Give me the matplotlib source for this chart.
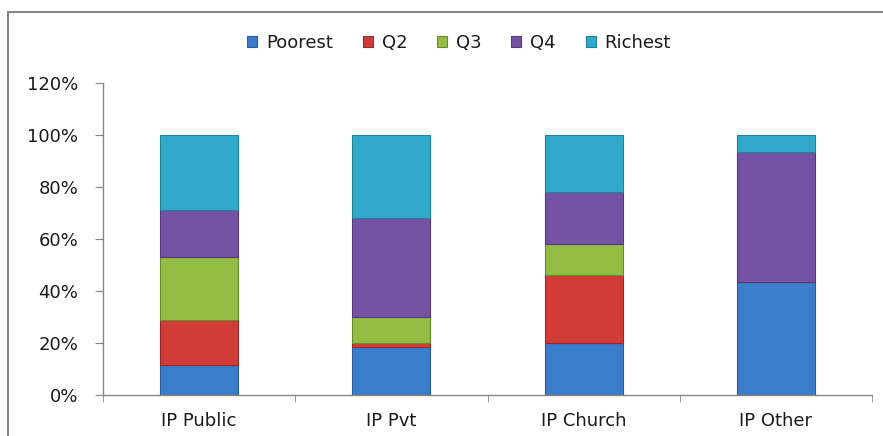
import matplotlib
matplotlib.use("Agg")
import matplotlib.pyplot as plt
from matplotlib.patches import Rectangle
from matplotlib.ticker import FixedLocator, PercentFormatter
import numpy as np

plt.rcParams["font.family"] = ["DejaVu Sans"]

categories = ["IP Public", "IP Pvt", "IP Church", "IP Other"]
series     = ["Poorest", "Q2", "Q3", "Q4", "Richest"]
poorest = [11.5, 18.5, 20.0, 43.5]
q2      = [17.5, 1.5, 26.0, 0.0]
q3      = [24.0, 10.0, 12.0, 0.0]
q4      = [18.0, 38.0, 20.0, 50.0]
richest = [29.0, 32.0, 22.0, 6.5]
colors  = ["#3B7CCB", "#D13B38", "#93BD45", "#7652A5", "#31A9CB"]
edges   = ["#2A5C98", "#962A28", "#6A8A30", "#553A7A", "#22809A"]

values = [poorest, q2, q3, q4, richest]

fig = plt.figure(figsize=(8.83, 4.36), dpi=100)
ax = fig.add_axes([103 / 883, 1 - 395 / 436, 769 / 883, 312 / 436])

x = np.arange(len(categories))
bottom = np.zeros(len(categories))
for name, vals, c, ec in zip(series, values, colors, edges):
    ax.bar(x, vals, 0.405, bottom=bottom, color=c, edgecolor=ec,
           linewidth=0.8, label=name)
    bottom += np.array(vals)

ax.set_xlim(-0.5, len(categories) - 0.5)
ax.set_ylim(0, 120)
ax.set_yticks(range(0, 121, 20))
ax.yaxis.set_major_formatter(PercentFormatter(decimals=0))
ax.set_xticks(x)
ax.set_xticklabels(categories)
ax.xaxis.set_minor_locator(FixedLocator(np.arange(-0.5, len(categories), 1.0)))
ax.tick_params(axis="x", which="major", length=0, pad=12, labelsize=13,
               colors="#1a1a1a")
ax.tick_params(axis="x", which="minor", length=5, color="#868686", direction="out")
ax.tick_params(axis="y", length=6, color="#868686", labelsize=13, pad=12,
               labelcolor="#1a1a1a")

for s in ["top", "right"]:
    ax.spines[s].set_visible(False)
for s in ["left", "bottom"]:
    ax.spines[s].set_color("#868686")
    ax.spines[s].set_linewidth(1)

ax.legend(loc="center", bbox_to_anchor=(0.463, 1.128), ncol=5, frameon=False,
          fontsize=13, handlelength=0.55, handleheight=0.55, handletextpad=0.5,
          columnspacing=1.65, labelcolor="#1a1a1a")

fig.patches.append(Rectangle((8 / 883, -0.1), 1.2, 1 - 12 / 436 + 0.1,
                             transform=fig.transFigure, fill=False,
                             edgecolor="#868686", linewidth=1.5))

fig.savefig("out.png", dpi=100)
